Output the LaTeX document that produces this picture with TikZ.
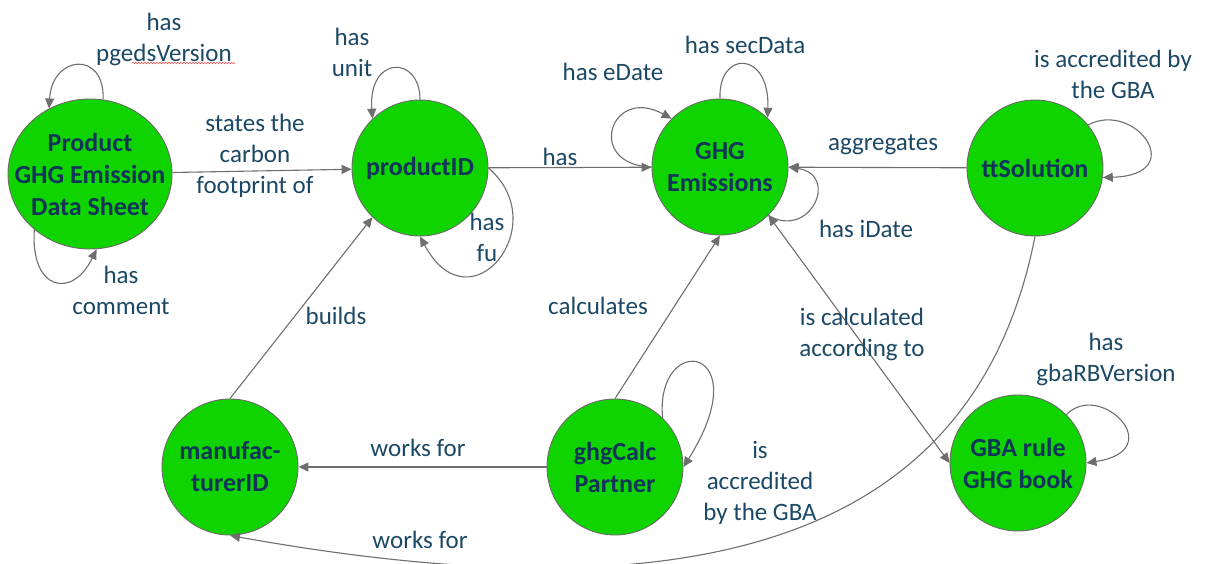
\documentclass[tikz,border=0pt]{standalone}
\usepackage{fontspec}
\setmainfont{Carlito}
\usetikzlibrary{arrows.meta,shapes.geometric,decorations.pathmorphing}
\definecolor{nodegreen}{RGB}{16,212,0}
\definecolor{rimgray}{RGB}{105,105,105}
\definecolor{edgegray}{RGB}{110,110,110}
\definecolor{labelblue}{RGB}{27,72,100}
\definecolor{nodeblue}{RGB}{16,52,90}
\definecolor{squiggle}{RGB}{235,90,90}

\begin{document}
\begin{tikzpicture}[x=1pt,y=-1pt,
  entity/.style={circle, fill=nodegreen, draw=rimgray, line width=0.9pt,
    minimum size=136pt, inner sep=0pt, align=center,
    font=\fontsize{26}{32}\selectfont\bfseries, text=nodeblue},
  rel/.style={draw=edgegray, line width=1.1pt, -{Triangle[length=10pt,width=9pt]}},
  both/.style={draw=edgegray, line width=1.1pt,
    {Triangle[length=10pt,width=9pt]}-{Triangle[length=10pt,width=9pt]}},
  lbl/.style={align=center, font=\fontsize{25}{31}\selectfont, text=labelblue, inner sep=0pt}]
\useasboundingbox (0,0) rectangle (1205,564);

% classes
\node[entity, ellipse, minimum width=164pt, minimum height=150pt, inner xsep=-25pt]
  (prod) at (90,174) {Product\\GHG Emission\\Data Sheet};
\node[entity] (pid)  at (420,168)  {productID};
\node[entity] (ghg)  at (720,167)  {GHG\\Emissions};
\node[entity] (tt)   at (1035,168) {ttSolution};
\node[entity] (man)  at (230,467)  {manufac-\\turerID};
\node[entity] (calc) at (615,467)  {ghgCalc\\Partner};
\node[entity] (gba)  at (1018,463) {GBA rule\\GHG book};

% relations between classes
\draw[rel] (prod) -- (pid);
\draw[rel] (pid) -- (ghg);
\draw[rel] (tt) -- (ghg);
\draw[rel] (man.north) -- (pid.226);
\draw[rel] (calc) -- (man);
\draw[rel] (calc.north) -- (ghg.south);
\draw[both] (ghg.-45) -- (gba.180);
\draw[rel] (tt.south) .. controls (975,541) and (700,620) .. (man.south);

% attribute loops
\draw[rel] (prod.80) .. controls (105,50) and (52,55) .. (prod.122);
\draw[rel] (prod.225) .. controls (30,290) and (72,300) .. (prod.-85);
\draw[rel] (pid.90) .. controls (420,55) and (368,55) .. (pid.134);
\draw[rel] (pid.0) .. controls (555,225) and (470,330) .. (pid.-90);
\draw[rel] (ghg.180) .. controls (585,165) and (610,85) .. (ghg.135);
\draw[rel] (ghg.90) .. controls (718,50) and (770,50) .. (ghg.46);
\draw[rel] (ghg.-45) .. controls (810,240) and (840,175) .. (ghg.0);
\draw[rel] (tt.39) .. controls (1135,100) and (1190,175) .. (tt.-8);
\draw[rel] (calc.46) .. controls (655,330) and (760,345) .. (calc.0);
\draw[rel] (gba.45) .. controls (1100,380) and (1170,450) .. (gba.0);

% labels
\node[lbl] (l1)  at (255,156)  {states the\\carbon\\footprint of};
\node[lbl] (l2)  at (164,39)   {has\\pgedsVersion};
\node[lbl] (l3)  at (121,290)  {has\\comment};
\node[lbl] (l4)  at (352,52)   {has\\unit};
\node[lbl] (l5)  at (487,237)  {has\\fu};
\node[lbl] (l6)  at (560,157)  {has};
\node[lbl] (l7)  at (613,72)   {has eDate};
\node[lbl] (l8)  at (745,45)   {has secData};
\node[lbl] (l9)  at (866,229)  {has iDate};
\node[lbl] (l10) at (883,145)  {aggregates};
\node[lbl] (l11) at (1113,74)  {is accredited by\\the GBA};
\node[lbl] (l12) at (336,316)  {builds};
\node[lbl] (l13) at (598,306)  {calculates};
\node[lbl] (l14) at (862,334)  {is calculated\\according to};
\node[lbl] (l15) at (418,448)  {works for};
\node[lbl] (l16) at (420,540)  {works for};
\node[lbl] (l17) at (760,483)  {is\\accredited\\by the GBA};
\node[lbl] (l18) at (1106,359) {has\\gbaRBVersion};

% spell-check underline
\draw[squiggle, line width=0.6pt, decorate,
  decoration={snake, amplitude=0.8pt, segment length=3pt}] (132,63) -- (235,63);
\end{tikzpicture}
\end{document}
